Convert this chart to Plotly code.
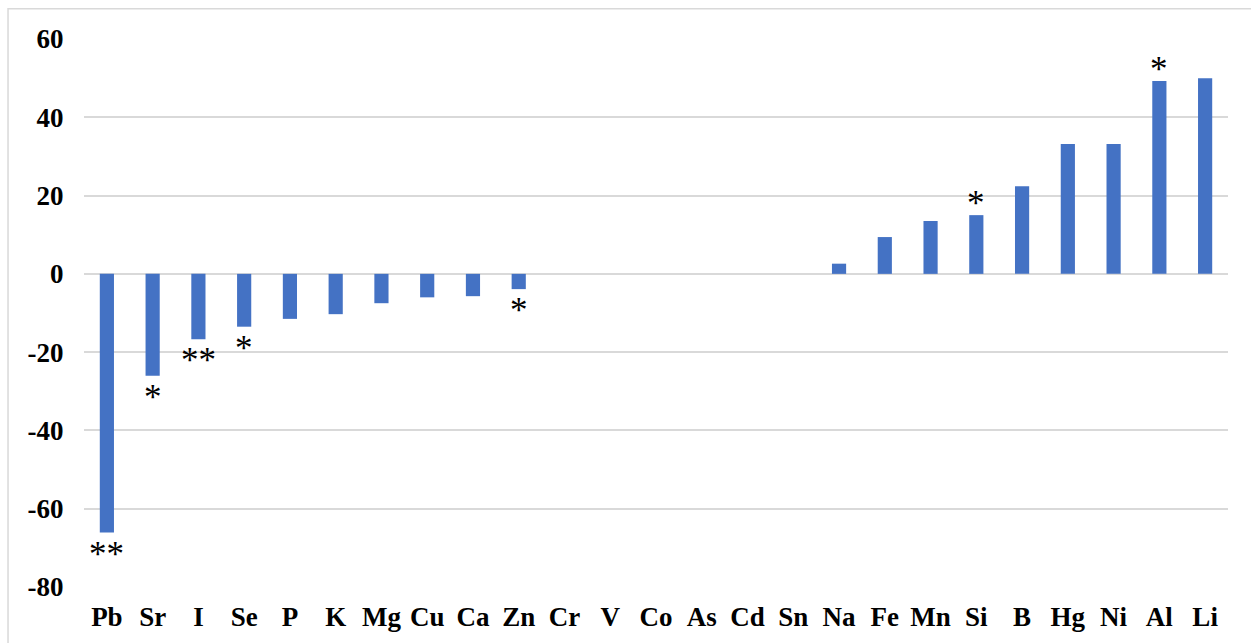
import plotly.graph_objects as go

# Element list and percent change per element
elements = ["Pb", "Sr", "I", "Se", "P", "K", "Mg", "Cu", "Ca", "Zn", "Cr", "V", "Co",
            "As", "Cd", "Sn", "Na", "Fe", "Mn", "Si", "B", "Hg", "Ni", "Al", "Li"]
change = [-66.1, -26.0, -16.7, -13.5, -11.5, -10.3, -7.5, -6.0, -5.7, -3.9, 0, 0, 0,
          0, 0, 0, 2.6, 9.4, 13.5, 15.0, 22.4, 33.2, 33.2, 49.3, 50.0]
# Significance markers
signif = ["**", "*", "**", "*", "", "", "", "", "", "*", "", "", "",
          "", "", "", "", "", "", "*", "", "", "", "*", ""]
y_ticks = [-80, -60, -40, -20, 0, 20, 40, 60]
y_tick_text = ["-80", "-60", "-40", "-20", "0", "20", "40", "60"]

BAR = "#4472C4"
GRID = "#d9d9d9"
SERIF = "Liberation Serif, Times New Roman, serif"

fig = go.Figure(go.Bar(
    x=elements, y=change, marker=dict(color=BAR, line=dict(width=0)),
    width=0.31, hoverinfo="x+y",
))

for name, val, mark in zip(elements, change, signif):
    if not mark:
        continue
    below = val < 0
    fig.add_annotation(
        x=name, y=val, text=mark, showarrow=False,
        yanchor="top" if below else "bottom",
        yshift=0 if below else -10,
        font=dict(family=SERIF, size=35, color="black"),
    )

fig.update_layout(
    width=1251, height=643,
    margin=dict(l=84, r=23, t=39, b=56),
    paper_bgcolor="white", plot_bgcolor="white",
    showlegend=False,
    bargap=0.69,
    xaxis=dict(
        showgrid=False, zeroline=False, showline=False, automargin=False,
        ticks="outside", ticklen=6, tickcolor="rgba(0,0,0,0)",
        tickfont=dict(family=SERIF, size=27, color="black", weight="bold"),
    ),
    yaxis=dict(
        range=[-80, 60], tickvals=y_ticks, ticktext=y_tick_text, automargin=False,
        showgrid=True, gridcolor=GRID, gridwidth=1.5,
        zeroline=True, zerolinecolor=GRID, zerolinewidth=1.5,
        showline=False,
        ticks="outside", ticklen=14, tickcolor="rgba(0,0,0,0)",
        tickfont=dict(family=SERIF, size=27, color="black", weight="bold"),
    ),
    shapes=[dict(
        type="rect", xref="paper", yref="paper",
        x0=-0.0664, x1=1.03, y0=-0.13, y1=1.0553,
        line=dict(color=GRID, width=1.5), fillcolor="rgba(0,0,0,0)", layer="below",
    )],
)

fig.write_html("out.html")
